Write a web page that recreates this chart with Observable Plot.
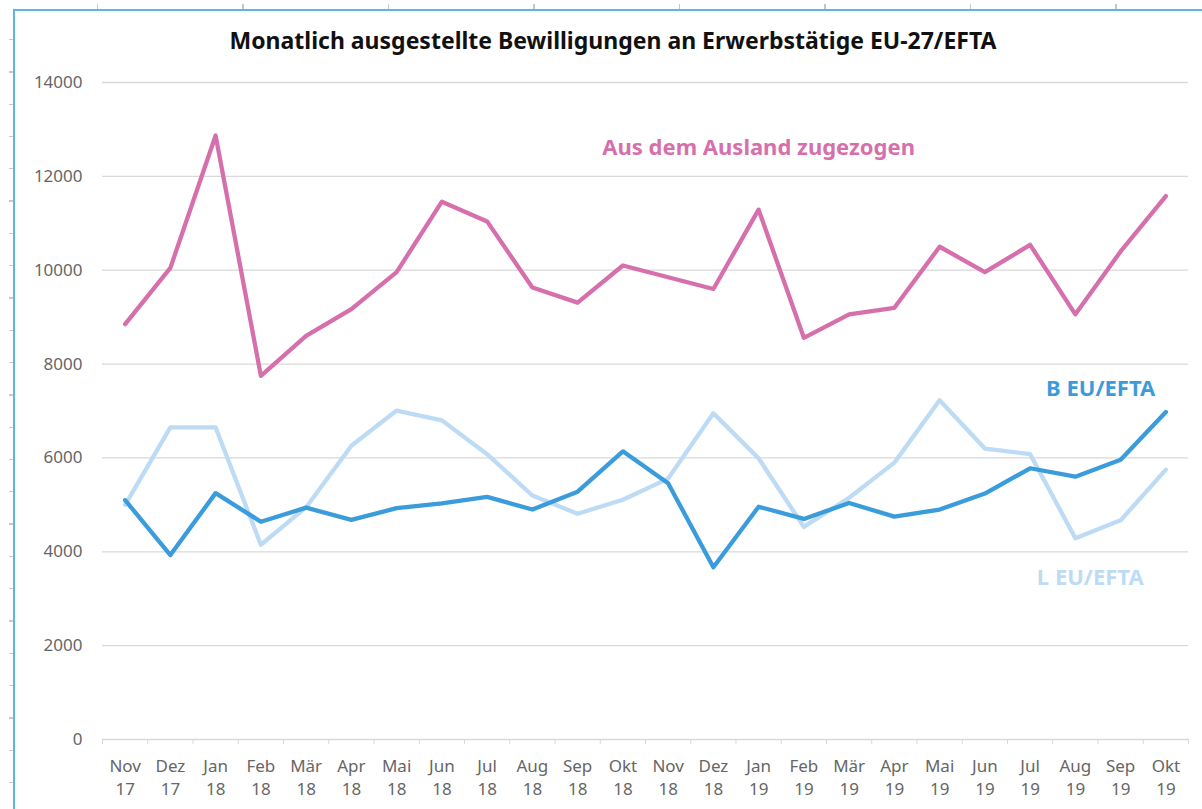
<!DOCTYPE html>
<html>
<head>
<meta charset="utf-8">
<script src="https://cdn.jsdelivr.net/npm/d3@7"></script>
<script src="https://cdn.jsdelivr.net/npm/@observablehq/plot@0.6"></script>
<style>
  html, body { margin: 0; padding: 0; background: #fff; }
  body { width: 1202px; height: 809px; position: relative; overflow: hidden; font-family: "Noto Sans", "Open Sans", sans-serif; }
  #frame { position: absolute; left: 13px; top: 9px; right: 0; bottom: 0; border-left: 2px solid #5db3ea; border-top: 2px solid #5db3ea; }
  #lticks { position: absolute; left: 9px; top: 8px; width: 4px; height: 801px;
    background: repeating-linear-gradient(to bottom, transparent 0 31px, #c8c8c8 31px 32.3px); }
  #tticks { position: absolute; left: 0; top: 4px; width: 1202px; height: 5px;
    background: repeating-linear-gradient(to right, transparent 0 97px, #c8c8c8 97px 98.5px, transparent 98.5px 145.5px); }
  #chart { position: absolute; left: 0; top: 0; width: 1202px; }
  #title { height: 60px; box-sizing: border-box; padding-top: 26px; padding-left: 24px; text-align: center;
    font-size: 23px; line-height: 28px; font-weight: bold; color: #111; }
</style>
</head>
<body>
<div id="lticks"></div>
<div id="tticks"></div>
<div id="frame"></div>
<div id="chart">
  <div id="title">Monatlich ausgestellte Bewilligungen an Erwerbstätige EU-27/EFTA</div>
</div>
<script>
const months = ["Nov","Dez","Jan","Feb","Mär","Apr","Mai","Jun","Jul","Aug","Sep","Okt",
                "Nov","Dez","Jan","Feb","Mär","Apr","Mai","Jun","Jul","Aug","Sep","Okt"];
const years  = ["17","17","18","18","18","18","18","18","18","18","18","18",
                "18","18","19","19","19","19","19","19","19","19","19","19"];
const zugezogen = [8850,10050,12870,7750,8600,9170,9960,11460,11040,9630,9310,10100,
                   9850,9600,11290,8560,9060,9200,10500,9960,10540,9060,10400,11580];
const bEU = [5100,3930,5250,4640,4940,4680,4930,5030,5170,4900,5280,6140,
             5460,3670,4960,4700,5040,4750,4900,5240,5780,5600,5960,6980];
const lEU = [5000,6650,6650,4150,4950,6260,7010,6800,6080,5200,4810,5110,
             5560,6950,5990,4530,5150,5900,7230,6200,6080,4290,4670,5750];
const seriesNames = ["Aus dem Ausland zugezogen", "B EU/EFTA", "L EU/EFTA"];
const seriesColors = ["#d670ac", "#3b9cdc", "#bddbf5"];
const yTicks = [0, 2000, 4000, 6000, 8000, 10000, 12000, 14000];

const idx = d3.range(months.length);
const toRows = (vals) => vals.map((v, i) => ({i, v}));
const labelFont = {fontSize: 22, fontWeight: "bold"};

const chart = Plot.plot({
  width: 1202,
  height: 749,
  marginLeft: 102,
  marginRight: 14,
  marginTop: 22,
  marginBottom: 70,
  style: {fontFamily: "'Noto Sans', 'Open Sans', sans-serif", background: "transparent"},
  x: {type: "linear", domain: [-0.5, months.length - 0.5], label: null},
  y: {domain: [0, 14000], label: null},
  marks: [
    Plot.gridY(yTicks, {stroke: "#d9d9d9", strokeOpacity: 1, strokeWidth: 1.3}),
    Plot.axisY(yTicks, {tickSize: 0, tickPadding: 20, fontSize: 17, fill: "#666", label: null,
                        tickFormat: (d) => String(d)}),
    Plot.axisX(d3.range(-0.5, months.length, 1), {tickSize: 5, stroke: "#d9d9d9", tickFormat: () => "", label: null}),
    Plot.axisX(idx, {tickSize: 0, tickPadding: 16, fontSize: 17, lineHeight: 1.35, fill: "#666",
                     tickFormat: (i) => months[i] + "\n" + years[i], label: null}),
    Plot.line(toRows(lEU), {x: "i", y: "v", stroke: seriesColors[2], strokeWidth: 4.3}),
    Plot.line(toRows(bEU), {x: "i", y: "v", stroke: seriesColors[1], strokeWidth: 4.3}),
    Plot.line(toRows(zugezogen), {x: "i", y: "v", stroke: seriesColors[0], strokeWidth: 4.3}),
    Plot.text([seriesNames[0]], {x: 14, y: 12600, text: (d) => d, fill: seriesColors[0], ...labelFont}),
    Plot.text([seriesNames[1]], {x: 21.56, y: 7460, text: (d) => d, fill: seriesColors[1], ...labelFont}),
    Plot.text([seriesNames[2]], {x: 21.33, y: 3450, text: (d) => d, fill: seriesColors[2], ...labelFont})
  ]
});
document.getElementById("chart").appendChild(chart);
</script>
</body>
</html>
